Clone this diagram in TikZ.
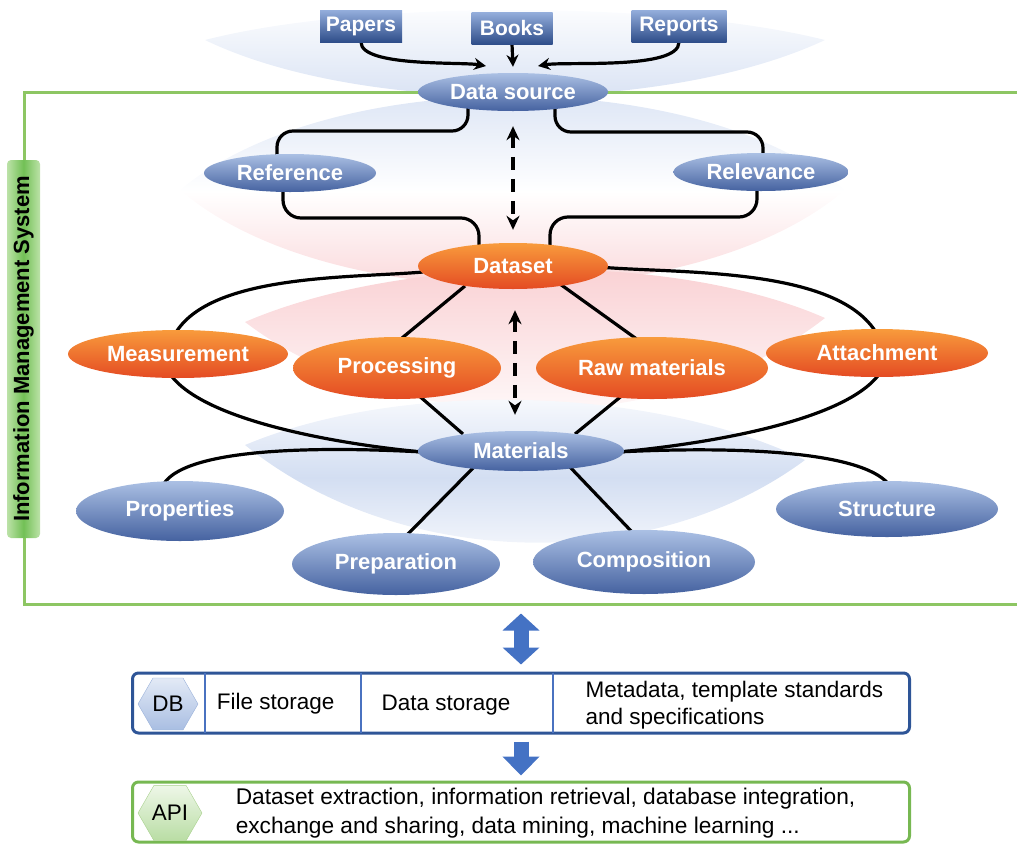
\documentclass[tikz,border=0pt]{standalone}
\usepackage{fontspec}
\setmainfont{Liberation Sans}
\usepackage{xcolor}
\usetikzlibrary{arrows.meta,positioning,calc,shapes.geometric,backgrounds}

\definecolor{ellblueT}{HTML}{ABC0E4}
\definecolor{ellblueB}{HTML}{4562A0}
\definecolor{ellorT}{HTML}{F89B3C}
\definecolor{ellorB}{HTML}{E44B23}
\definecolor{boxT}{HTML}{94AEDC}
\definecolor{boxB}{HTML}{2F4E8A}
\definecolor{glowblue}{HTML}{D3DEF2}
\definecolor{glowpink}{HTML}{F9CDD0}
\definecolor{framegreen}{HTML}{8DC663}
\definecolor{labellight}{HTML}{BCE2A8}
\definecolor{labelmid}{HTML}{72C055}
\definecolor{dbblue}{HTML}{2E5597}
\definecolor{divblue}{HTML}{4A72C0}
\definecolor{arrowblue}{HTML}{4472C4}
\definecolor{apigreen}{HTML}{77B852}
\definecolor{dbhexT}{HTML}{E3EAF6}
\definecolor{dbhexB}{HTML}{A9BEE2}
\definecolor{dbhexline}{HTML}{9AB1DA}
\definecolor{apihexT}{HTML}{EEF7E8}
\definecolor{apihexB}{HTML}{B9DDA4}
\definecolor{apihexline}{HTML}{A8D08D}

\begin{document}
\begin{tikzpicture}[
  x=1pt, y=1pt,
  font=\fontsize{22.5}{27}\selectfont,
  blueell/.style={ellipse, inner sep=0pt, top color=ellblueT, bottom color=ellblueB, text=white, font=\fontsize{22}{26}\selectfont\bfseries},
  orangeell/.style={blueell, top color=ellorT, bottom color=ellorB},
  srcbox/.style={rectangle, inner sep=2pt, minimum height=32pt, top color=boxT, bottom color=boxB, text=white, font=\fontsize{21}{24}\selectfont\bfseries},
  link/.style={line width=3.2pt, black},
  arr/.style={link, -{Stealth[length=12pt, width=12pt]}},
  dasharr/.style={link, dash pattern=on 13pt off 9pt, {Stealth[length=14pt, width=13pt]}-{Stealth[length=14pt, width=13pt]}},
  blockarr/.style={line width=15pt, arrowblue},
  hexa/.style={regular polygon, regular polygon sides=6, inner sep=0pt},
  store/.style={rectangle, rounded corners=6pt, line width=3pt, minimum width=777pt, minimum height=60pt},
]
\useasboundingbox (0,0) rectangle (1017,-844);

% sources
\node[srcbox, minimum width=82pt] (pap) at (361,-26) {Papers};
\node[srcbox, minimum width=81pt] (bks) at (512,-28) {Books};
\node[srcbox, minimum width=95pt] (rep) at (679,-26) {Reports};

% information management system
\node[draw=framegreen, line width=3pt, minimum width=1010pt, minimum height=512pt, inner sep=0pt] (ims) at (529,-348) {};
\node[rotate=90, rounded corners=4pt, minimum width=378pt, minimum height=33pt, inner sep=0pt,
      left color=labellight, right color=labellight, middle color=labelmid,
      font=\fontsize{22}{26}\selectfont\bfseries] (imsl) at (23.5,-349) {Information Management System};

\node[blueell, minimum width=190pt, minimum height=38pt] (src) at (513,-92) {Data source};
\node[blueell, minimum width=172pt, minimum height=38pt] (ref) at (290,-173) {Reference};
\node[blueell, minimum width=175pt, minimum height=38pt] (rel) at (761,-172) {Relevance};
\node[orangeell, minimum width=190pt, minimum height=46pt] (dset) at (513,-266) {Dataset};
\node[orangeell, minimum width=220pt, minimum height=48pt] (meas) at (178,-354) {Measurement};
\node[orangeell, minimum width=208pt, minimum height=62pt] (proc) at (397,-368) {Processing};
\node[orangeell, minimum width=232pt, minimum height=62pt] (raw) at (652,-368) {Raw materials};
\node[orangeell, minimum width=222pt, minimum height=48pt] (att) at (877,-353) {Attachment};
\node[blueell, minimum width=206pt, minimum height=40pt] (mat) at (521,-451) {Materials};
\node[blueell, minimum width=208pt, minimum height=60pt] (prop) at (180,-511) {Properties};
\node[blueell, minimum width=208pt, minimum height=62pt] (prep) at (396,-564) {Preparation};
\node[blueell, minimum width=222pt, minimum height=64pt] (comp) at (644,-562) {Composition};
\node[blueell, minimum width=222pt, minimum height=56pt] (struc) at (887,-509) {Structure};

% storage and interface
\node[store, draw=dbblue] (db) at (521,-703) {};
\foreach \dx in {-316,-160,32}
  \draw[line width=2.5pt, divblue, shorten <=1.5pt, shorten >=1.5pt] ([xshift=\dx pt]db.north) -- ([xshift=\dx pt]db.south);
\node[hexa, minimum size=60pt, draw=dbhexline, top color=dbhexT, bottom color=dbhexB] (dbhex) at (168,-704) {DB};
\node[right=15pt of dbhex] (fs) {File storage};
\node (ds) at (446,-705) {Data storage};
\node[anchor=west, align=left] (meta) at (582,-705) {Metadata, template standards\\and specifications};

\node[store, draw=apigreen] (api) at (521,-812) {};
\node[hexa, minimum size=64pt, draw=apihexline, top color=apihexT, bottom color=apihexB] (apihex) at (170,-813) {API};
\node[right=30pt of apihex, align=left, font=\fontsize{22.7}{29}\selectfont] (apitxt) {Dataset extraction, information retrieval, database integration,\\exchange and sharing, data mining, machine learning ...};

\draw[blockarr, {Triangle[length=17pt, width=36pt]}-{Triangle[length=17pt, width=36pt]}, shorten <=8pt, shorten >=7pt] (ims.south -| mat) -- (db.north -| mat);
\draw[blockarr, -{Triangle[length=19pt, width=36pt]}, shorten <=7pt, shorten >=5pt] (db.south -| mat) -- (api.north -| mat);

\begin{scope}[on background layer]
  % glows
  \shade[top color=glowblue, bottom color=glowpink, middle color=white] (180,-190) .. controls (330,-65) and (695,-65) .. (845,-190) .. controls (695,-318) and (330,-318) .. cycle;
  \shade[top color=glowpink, bottom color=white] (245,-322) .. controls (400,-255) and (670,-250) .. (825,-318) .. controls (670,-440) and (400,-440) .. cycle;
  \shade[top color=white, bottom color=glowblue] (205,-40) .. controls (360,0) and (665,0) .. (825,-40) .. controls (665,-115) and (360,-115) .. cycle;
  \shade[top color=white, bottom color=white, middle color=glowblue] (245,-445) .. controls (400,-380) and (650,-385) .. (805,-460) .. controls (650,-575) and (400,-570) .. cycle;

  % sources to data source
  \draw[arr] (pap.south) to[out=-90, in=170, looseness=0.5] ([shift={(-27,26)}]src.center);
  \draw[arr] (bks.south) -- ([yshift=6pt]src.north);
  \draw[arr] (rep.south) to[out=-90, in=10, looseness=0.5] ([shift={(25,26)}]src.center);

  \draw[link, rounded corners=16pt] ([shift={(-45,-12)}]src.center) |- ([shift={(-13,42)}]ref.center) -- ([shift={(-13,15)}]ref.center);
  \draw[link, rounded corners=16pt] ([shift={(42,-12)}]src.center) |- ([shift={(2,40)}]rel.center) -- ([shift={(2,15)}]rel.center);
  \draw[link, rounded corners=18pt] ([shift={(-7,-15)}]ref.center) |- ([shift={(-34,48)}]dset.center) -- ([shift={(-34,14)}]dset.center);
  \draw[link, rounded corners=18pt] ([shift={(-4,-15)}]rel.center) |- ([shift={(37,49)}]dset.center) -- ([shift={(37,14)}]dset.center);

  \draw[dasharr, shorten <=15pt, shorten >=13pt] (src.south) -- (dset.north);
  \draw[dasharr, shorten <=21pt, shorten >=16pt] ([xshift=2pt]dset.south) -- ([xshift=2pt]dset.south |- mat.north);

  % dataset
  \draw[link] ([shift={(-90,-6)}]dset.center) to[out=185, in=60, looseness=0.7] ([shift={(-3,20)}]meas.center);
  \draw[link] ([shift={(86,-1)}]dset.center) to[out=-5, in=120, looseness=0.7] ([shift={(0,19)}]att.center);
  \draw[link] ([shift={(-48,-20)}]dset.center) -- ([shift={(5,30)}]proc.center);
  \draw[link] ([shift={(47,-18)}]dset.center) -- ([shift={(-14,28)}]raw.center);

  % materials
  \draw[link] ([shift={(-8,-20)}]meas.center) to[out=-55, in=175, looseness=0.6] ([shift={(-98,-1)}]mat.center);
  \draw[link] ([shift={(3,-20)}]att.center) to[out=-125, in=5, looseness=0.6] ([shift={(97,-1)}]mat.center);
  \draw[link] ([shift={(20,-26)}]proc.center) -- ([shift={(-58,17)}]mat.center);
  \draw[link] ([shift={(-28,-26)}]raw.center) -- ([shift={(54,17)}]mat.center);
  \draw[link] ([shift={(-98,-1)}]mat.center) to[out=177, in=60, looseness=0.5] ([shift={(-17,26)}]prop.center);
  \draw[link] ([shift={(-46,-15)}]mat.center) -- ([shift={(9,27)}]prep.center);
  \draw[link] ([shift={(48,-15)}]mat.center) -- ([shift={(-11,29)}]comp.center);
  \draw[link] ([shift={(97,-1)}]mat.center) to[out=3, in=125, looseness=0.5] ([shift={(3,23)}]struc.center);
\end{scope}
\end{tikzpicture}
\end{document}
